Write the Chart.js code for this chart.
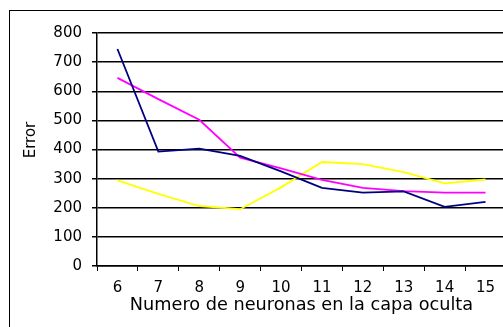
<!DOCTYPE html>
<html>
<head>
<meta charset="utf-8">
<script src="https://cdn.jsdelivr.net/npm/chart.js@4.4.1/dist/chart.umd.min.js"></script>
<style>
    html, body { margin: 0; padding: 0; background: #fff; overflow: hidden; }
    #wrap { position: relative; width: 503px; height: 327px; overflow: hidden; }
    #wrap canvas { position: absolute; left: 0; top: 0; }
</style>
</head>
<body>
<div id="wrap"><canvas id="lineChart" width="512" height="327"></canvas></div>
<script>
// Neuronas en la capa oculta
const neuronas = ['6', '7', '8', '9', '10', '11', '12', '13', '14', '15'];

// Error for each series
const errorAzul = [745, 393, 403, 378, 325, 268, 252, 256, 203, 220];
const errorMagenta = [646, 573, 502, 372, 335, 296, 268, 257, 252, 252];
const errorAmarillo = [294, 248, 206, 195, 270, 357, 350, 322, 284, 297];

const yTicks = [0, 100, 200, 300, 400, 500, 600, 700, 800];
const yTitle = 'Error';
const xTitle = 'Numero de neuronas en la capa oculta';

const tickFont = { family: 'DejaVu Sans', size: 15 };

// outer frame of the picture (only top and left edges are visible)
const framePlugin = {
    id: 'frame',
    afterDraw(chart) {
        const c = chart.ctx;
        c.save();
        c.strokeStyle = '#000';
        c.lineWidth = 1;
        c.strokeRect(9.5, 10.5, 700, 500);
        c.restore();
    }
};

// y axis title sits a bit above the middle of the axis
const yTitlePlugin = {
    id: 'yTitle',
    afterDraw(chart) {
        const c = chart.ctx;
        c.save();
        c.translate(31, 140);
        c.rotate(-Math.PI / 2);
        c.font = '15px "DejaVu Sans"';
        c.fillStyle = '#000';
        c.textAlign = 'center';
        c.textBaseline = 'middle';
        c.fillText(yTitle, 0, 0);
        c.restore();
    }
};

const ctx = document.getElementById('lineChart').getContext('2d');

var myChart = new Chart(ctx, {
    type: 'line',
    data: {
        labels: neuronas,
        datasets: [{
            label: 'Azul',
            data: errorAzul,
            borderColor: '#000080',
            borderWidth: 1.8,
            pointRadius: 0,
            fill: false
        }, {
            label: 'Magenta',
            data: errorMagenta,
            borderColor: '#FF00FF',
            borderWidth: 1.8,
            pointRadius: 0,
            fill: false
        }, {
            label: 'Amarillo',
            data: errorAmarillo,
            borderColor: '#FFFF00',
            borderWidth: 1.8,
            pointRadius: 0,
            fill: false
        }]
    },
    options: {
        responsive: false,
        animation: false,
        layout: { padding: { left: 10, top: 33, right: 6, bottom: 0 } },
        plugins: {
            legend: { display: false },
            tooltip: { enabled: false }
        },
        scales: {
            x: {
                offset: true,
                grid: { offset: true, drawOnChartArea: false, color: '#000', tickLength: 5 },
                border: { color: '#000', width: 1.5 },
                ticks: { color: '#000', font: tickFont, padding: 8, maxRotation: 0 },
                title: {
                    display: true,
                    text: xTitle,
                    color: '#000',
                    font: { family: 'DejaVu Sans', size: 17.7 },
                    padding: { top: 0, bottom: 11 }
                },
                afterFit(scale) { scale.height = 61; }
            },
            y: {
                min: 0,
                max: 800,
                afterBuildTicks(scale) { scale.ticks = yTicks.map(v => ({ value: v })); },
                grid: { color: '#000', lineWidth: 1.5, tickLength: 5 },
                border: { color: '#000', width: 1.5 },
                ticks: { color: '#000', font: tickFont, padding: 10 },
                afterFit(scale) { scale.width = 87; }
            }
        }
    },
    plugins: [framePlugin, yTitlePlugin]
});
</script>
</body>
</html>
